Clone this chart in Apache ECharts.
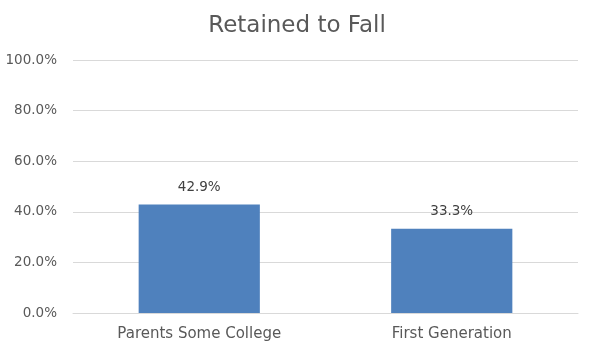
<!DOCTYPE html>
<html>
<head>
<meta charset="utf-8">
<script src="https://cdn.jsdelivr.net/npm/echarts@6/dist/echarts.min.js"></script>
<style>
html,body{margin:0;padding:0;background:#fff;}
#chart{width:594px;height:353px;}
</style>
</head>
<body>
<div id="chart"></div>
<script>
// categories and values (percent)
var categories = ['Parents Some College', 'First Generation'];
var retained = [42.9, 33.3];

var chart = echarts.init(document.getElementById('chart'));
chart.setOption({
	animation: false,
	textStyle: {fontFamily: 'DejaVu Sans'},
	title: {
		text: 'Retained to Fall',
		left: 'center',
		top: 10,
		textStyle: {fontSize: 23, fontWeight: 'normal', color: '#595959', fontFamily: 'DejaVu Sans'}
	},
	grid: {left: 73, right: 16, top: 60, bottom: 40},
	xAxis: {
		type: 'category',
		data: categories,
		axisLine: {lineStyle: {color: '#d9d9d9'}},
		axisTick: {show: false},
		axisLabel: {color: '#595959', fontSize: 15, margin: 14}
	},
	yAxis: {
		type: 'value',
		min: 0,
		max: 100,
		interval: 20,
		axisLine: {show: false},
		axisTick: {show: false},
		splitLine: {lineStyle: {color: '#d9d9d9'}},
		axisLabel: {
			color: '#595959',
			fontSize: 13.5,
			margin: 16,
			formatter: function(v){ return v.toFixed(1) + '%'; }
		}
	},
	series: [{
		type: 'bar',
		data: retained,
		barWidth: '48%',
		itemStyle: {color: '#4f81bd'},
		label: {
			show: true,
			position: 'top',
			distance: 10,
			color: '#404040',
			fontSize: 13.5,
			formatter: function(p){ return p.value.toFixed(1) + '%'; }
		}
	}]
});
</script>
</body>
</html>
